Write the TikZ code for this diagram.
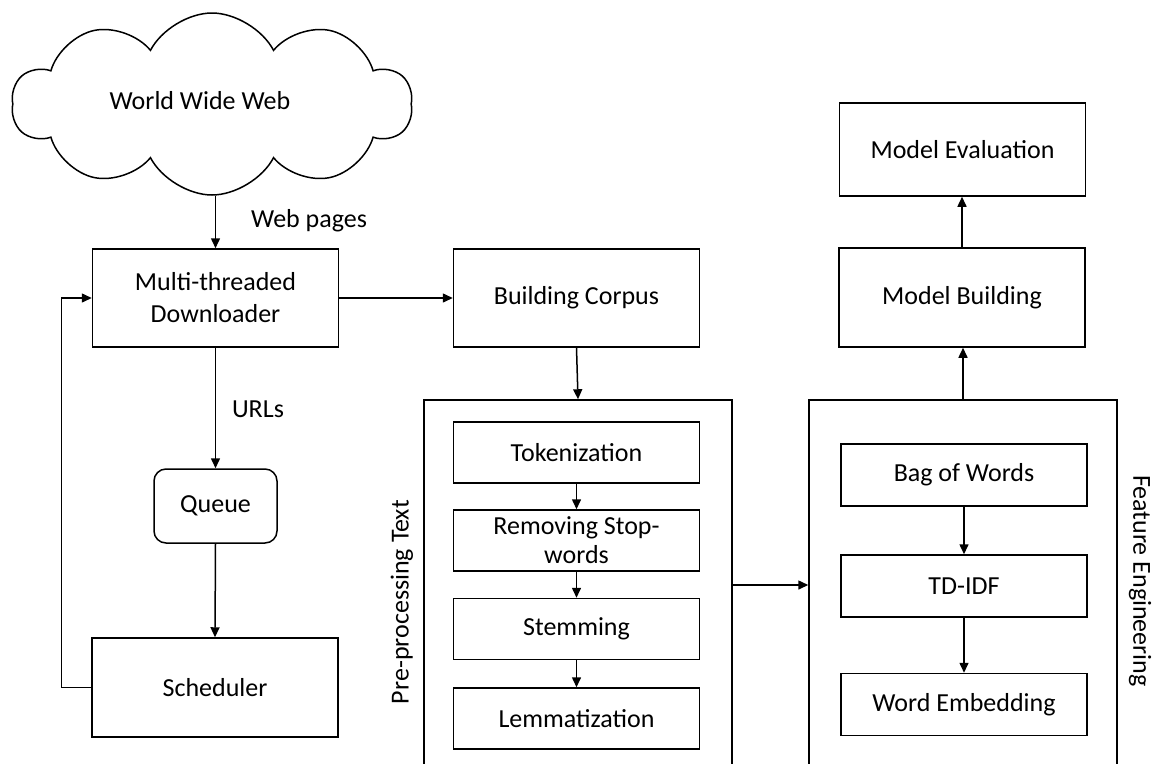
\documentclass[tikz,border=0pt]{standalone}
\usepackage{fontspec}
\setmainfont{Carlito}
\usetikzlibrary{arrows.meta,shapes.symbols}
\begin{document}
\begin{tikzpicture}[x=1pt,y=-1pt,
  line width=1.5pt,
  every node/.style={font=\fontsize{26}{32}\selectfont},
  box/.style={draw,inner sep=0pt,align=center,minimum width=246pt,minimum height=#1},
  box/.default=98pt,
  panel/.style={draw,inner sep=0pt,minimum width=308pt,minimum height=370pt},
  arr/.style={-{Triangle[length=10pt,width=9pt]}},
  lbl/.style={inner sep=0pt}]
\clip (0,0) rectangle (1155,763);

% crawler
\node[cloud,draw,cloud puffs=10,cloud puff arc=125,aspect=2.2,
      minimum width=400pt,minimum height=182pt,inner sep=0pt] (web) at (212,104) {};
\node[lbl] (webtxt) at (200,101) {World Wide Web};
\node[box] (dl) at (215.5,298) {Multi-threaded\\Downloader};
\node[draw,rounded corners=12pt,minimum width=123pt,minimum height=74pt,inner sep=0pt] (queue) at (215.5,506) {Queue};
\node[box=99pt] (sched) at (215,687.5) {Scheduler};

% corpus and pre-processing
\node[box] (bc) at (576.5,298) {Building Corpus};
\node[panel] (pre) at (578,585) {};
\node[box=61pt] (tok) at (576.5,452.5) {Tokenization};
\node[box=61pt] (rem) at (576.5,540.5) {Removing Stop-\\[-3pt]words};
\node[box=61pt] (stem) at (576.5,629) {Stemming};
\node[box=61pt] (lem) at (576.5,718.5) {Lemmatization};
\node[lbl,rotate=90] (pretxt) at (402,602) {Pre-processing Text};

% features and model
\node[panel] (fe) at (963,585) {};
\node[box=62pt] (bow) at (964,475) {Bag of Words};
\node[box=62pt] (td) at (964,586) {TD-IDF};
\node[box=62pt] (we) at (964,704.5) {Word Embedding};
\node[lbl,rotate=-90] (fetxt) at (1140,581) {Feature Engineering};
\node[box=99pt] (mb) at (962,297.5) {Model Building};
\node[box=93pt] (me) at (962.5,149.5) {Model Evaluation};

% connectors
\draw[arr] (dl.north |- web.south) -- (dl.north);
\node[lbl] (wp) at (309,221) {Web pages};
\draw[arr] (dl.south) -- (queue.north);
\node[lbl] (urls) at (258,409) {URLs};
\draw[arr] (queue.south) -- (sched.north);
\draw[arr] (sched.west) -- ++(-30,0) |- (dl.west);
\draw[arr] (dl.east) -- (bc.west);
\draw[arr] (bc.south) -- (pre.north);
\draw[arr] (tok) -- (rem);
\draw[arr] (rem) -- (stem);
\draw[arr] (stem) -- (lem);
\draw[arr] (pre.east) -- (fe.west);
\draw[arr] (bow) -- (td);
\draw[arr] (td) -- (we);
\draw[arr] (fe.north) -- (fe.north |- mb.south);
\draw[arr] (mb.north) -- (mb.north |- me.south);
\end{tikzpicture}
\end{document}
